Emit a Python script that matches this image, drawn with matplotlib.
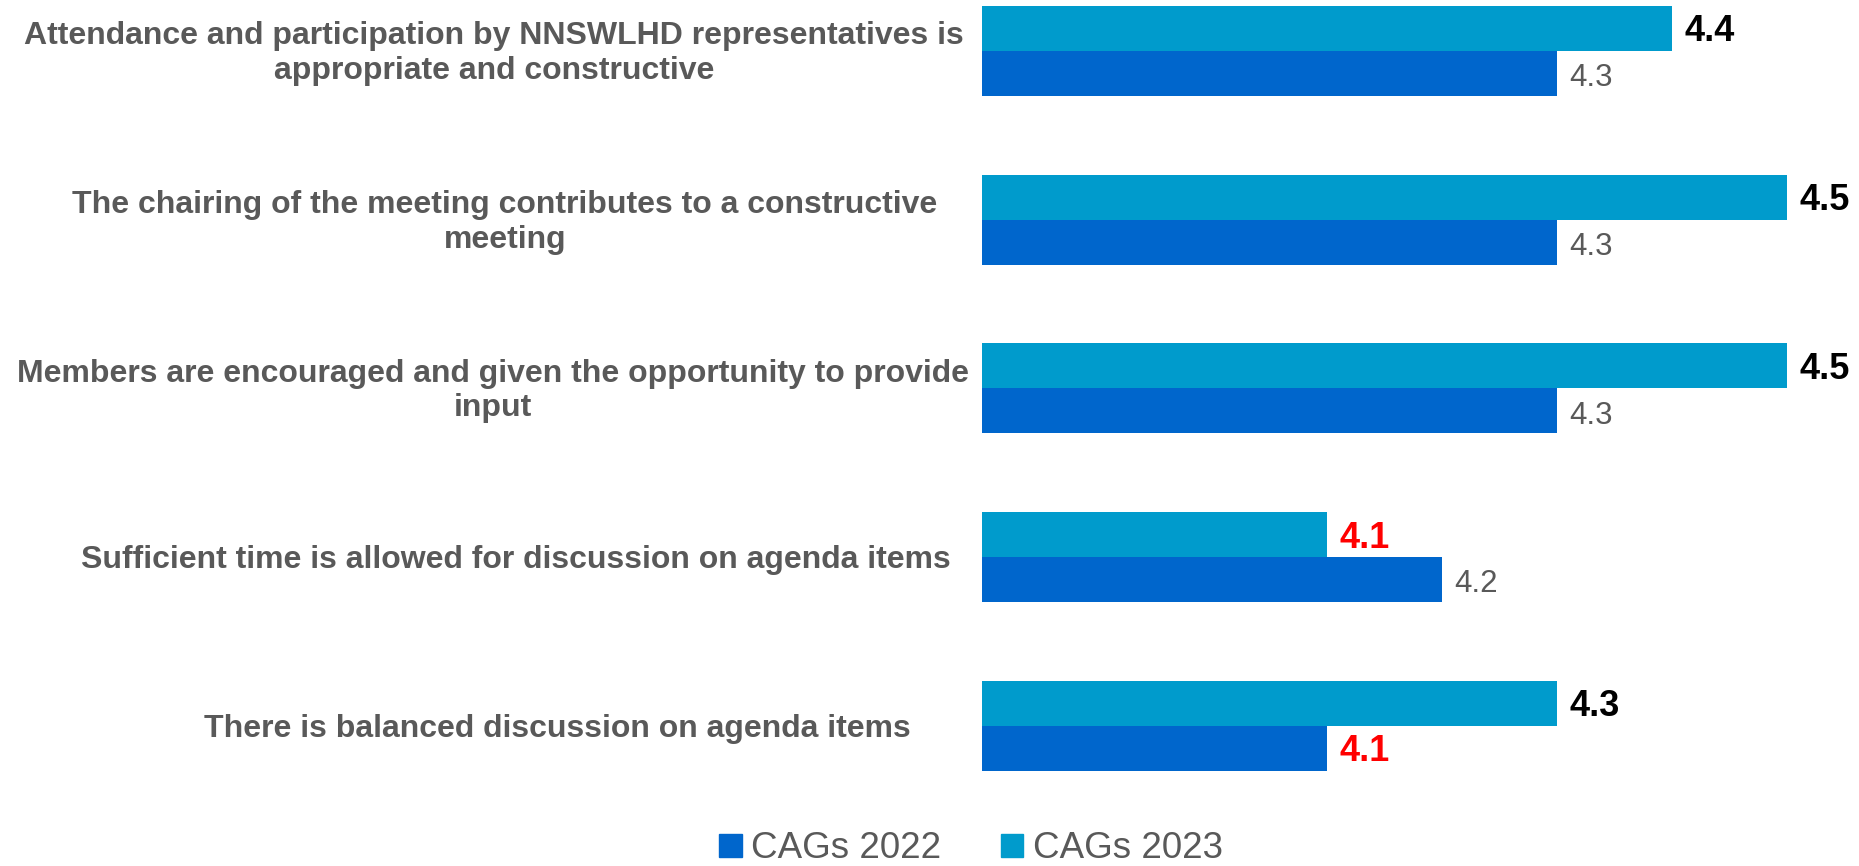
import matplotlib.pyplot as plt
from matplotlib.patches import Patch
from matplotlib.transforms import blended_transform_factory

plt.rcParams['font.family'] = ['Liberation Sans', 'DejaVu Sans']

# Data
categories = [
    "Attendance and participation by NNSWLHD representatives is\nappropriate and constructive",
    "The chairing of the meeting contributes to a constructive\nmeeting",
    "Members are encouraged and given the opportunity to provide\ninput",
    "Sufficient time is allowed for discussion on agenda items",
    "There is balanced discussion on agenda items",
]
cags_2022 = [4.3, 4.3, 4.3, 4.2, 4.1]
cags_2023 = [4.4, 4.5, 4.5, 4.1, 4.3]
series_names = ["CAGs 2022", "CAGs 2023"]

# Styles / layout
c2022 = "#0066CC"
c2023 = "#009BCC"
grey = "#595959"
low = 4.1
label_x_px = [494, 505, 493, 516, 557]  # centre of each category label, in pixels
bar_h = 0.267
base = 3.8

fig = plt.figure(figsize=(18.59, 8.66), dpi=100)
ax = fig.add_axes([982 / 1859, 66 / 866, 805 / 1859, 800 / 866])

y = list(range(len(categories)))
y23 = [v - bar_h / 2 for v in y]
y22 = [v + bar_h / 2 for v in y]
ax.barh(y23, [v - base for v in cags_2023], left=base, height=bar_h, color=c2023)
ax.barh(y22, [v - base for v in cags_2022], left=base, height=bar_h, color=c2022)

ax.set_xlim(3.8, 4.5)
ax.set_ylim(4.44, -0.302)
ax.axis('off')

# value labels
for yy, v in zip(y23, cags_2023):
    col = 'red' if v <= low else 'black'
    ax.annotate(f"{v:.1f}", (v, yy), xytext=(9, -2.5), textcoords='offset points',
                va='center', ha='left', fontsize=26, fontweight='bold', color=col)
for yy, v in zip(y22, cags_2022):
    if v <= low:
        ax.annotate(f"{v:.1f}", (v, yy), xytext=(9, -2.5), textcoords='offset points',
                    va='center', ha='left', fontsize=26, fontweight='bold', color='red')
    else:
        ax.annotate(f"{v:.1f}", (v, yy), xytext=(9, -3.5), textcoords='offset points',
                    va='center', ha='left', fontsize=22.5, color=grey)

# category labels
tr = blended_transform_factory(fig.transFigure, ax.transData)
for yy, lab, xp in zip(y, categories, label_x_px):
    ax.annotate(lab, (xp / 1859, yy), xycoords=tr, xytext=(0, -2), textcoords='offset points',
                ha='center', va='center', multialignment='center', fontsize=23,
                fontweight='bold', color=grey, linespacing=1.2)

handles = [Patch(color=c2022), Patch(color=c2023)]
fig.legend(handles, series_names, loc='center', bbox_to_anchor=(971 / 1859, 1 - 849 / 866),
           ncol=2, frameon=False, fontsize=26.5, labelcolor=grey,
           handlelength=0.62, handleheight=0.62, handletextpad=0.26, columnspacing=1.6,
           borderpad=0.2)

fig.savefig('out.png', dpi=100)
